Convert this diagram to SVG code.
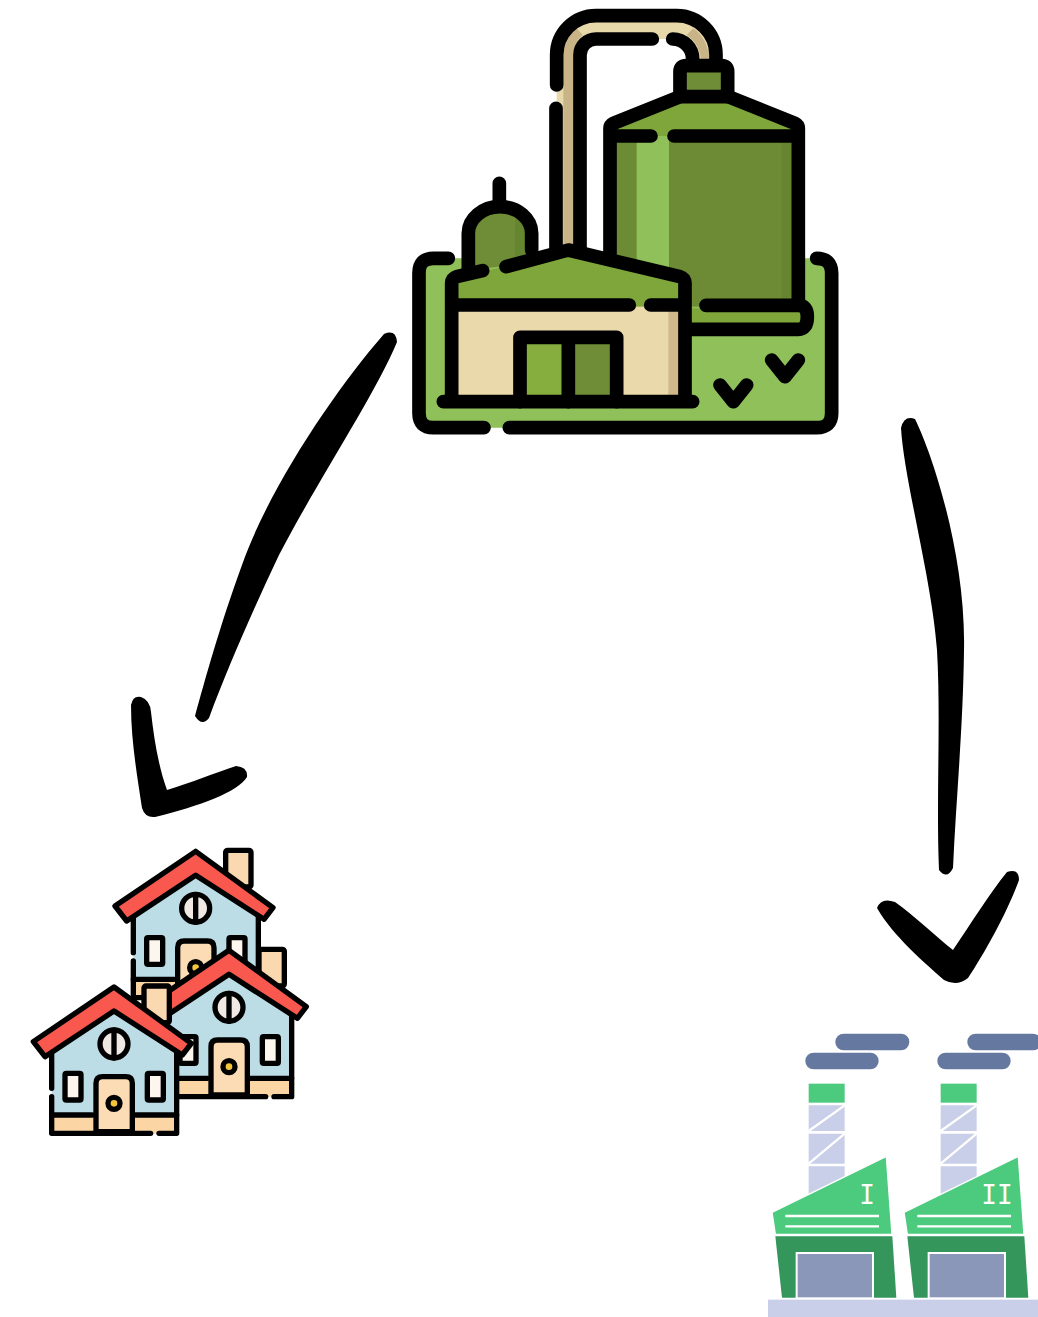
<svg xmlns="http://www.w3.org/2000/svg" xmlns:xlink="http://www.w3.org/1999/xlink" width="1038" height="1317" viewBox="0 0 1038 1317">
<style>
.k{fill:none;stroke:#000;stroke-width:41;stroke-linecap:round;stroke-linejoin:round}
.h{stroke:#000;stroke-width:16;stroke-linecap:round;stroke-linejoin:round}
.hl{fill:none;stroke:#000;stroke-width:16;stroke-linecap:round;stroke-linejoin:round}
.w{fill:none;stroke:#fff;stroke-width:7}
.t{font-family:"DejaVu Sans Mono",monospace;font-size:26px;fill:#fff;text-anchor:middle}
</style>
<defs>
<g id="house">
<rect class="h" x="90" y="-7" width="76" height="110" rx="6" fill="#fad9b0"/>
<path d="M-187 170L0 50L188 170V435H-187Z" fill="#bcdde6"/>
<rect x="-187" y="380" width="375" height="55" fill="#fbd5a4"/>
<path class="hl" d="M-187 380H-65M65 380H188"/>
<path class="h" fill="#fcdcb4" d="M-54 430V285Q-54 265-34 265H35Q55 265 55 285V430Z"/>
<circle class="h" cx="0" cy="345" r="18" fill="#f2c53d"/>
<rect class="h" x="-147" y="255" width="48" height="80" rx="4" fill="#fdf6ee"/>
<rect class="h" x="100" y="255" width="48" height="80" rx="4" fill="#fdf6ee"/>
<circle class="h" cx="0" cy="167" r="42" fill="#f0e8e2"/>
<path class="hl" d="M0 125V209"/>
<path class="hl" d="M-187 190V300M-187 325V435H110M135 435H188V190"/>
<path class="h" fill="#f9584f" d="M0 -4L232 165L205 200L0 68L-207 205L-242 160Z"/>
</g>
<g id="factory">
<rect x="232" y="20" width="222" height="50" rx="25" fill="#6478a0"/>
<rect x="142" y="77" width="220" height="50" rx="25" fill="#6478a0"/>
<rect x="152" y="170" width="108" height="57" fill="#4ccb7e"/>
<path fill="#c9cfe8" d="M152 235H260V312H152ZM152 320H260V410H152ZM152 418H260V520H152Z"/>
<path class="w" d="M152 312L260 235M152 410L260 320"/>
<path fill="#4ccb7e" stroke="#fff" stroke-width="4" d="M42 556L385 388L402 622H52Z"/>
<path class="w" d="M82 567H363M82 598H363"/>
<path fill="#35965c" d="M52 628H403L415 812H72Z"/>
<rect x="116" y="678" width="229" height="136" fill="#8a97b8" stroke="#fff" stroke-width="6"/>
</g>
</defs>

<g id="biogas-plant" transform="translate(400 0) scale(.33333)">
<rect x="57" y="775" width="1238" height="508" rx="40" fill="#8fc05a"/>
<path fill="#e8d9ab" d="M470 745V165A118 118 0 0 1 588 47H830A118 118 0 0 1 948 165V195H878V177A60 60 0 0 0 818 117H588A48 48 0 0 0 540 165V745Z"/>
<path fill="#c9b488" d="M490 745V165Q490 110 530 85L548 105Q522 125 522 165V745Z"/>
<path fill="#c9b488" d="M880 85Q925 115 930 190H905Q900 130 860 105Z"/>
<rect x="630" y="400" width="565" height="520" fill="#6d8b35"/>
<rect x="710" y="408" width="97" height="500" fill="#8fc05a"/>
<rect x="1145" y="420" width="32" height="490" fill="#668530"/>
<path fill="#7ea63a" d="M630 375L840 290H985L1195 375V408H630Z"/>
<rect x="840" y="197" width="143" height="93" fill="#6f8c36"/>
<rect x="860" y="925" width="345" height="50" fill="#7ea63a"/>
<path d="M205 810V700A95 80 0 0 1 395 700V790Z" fill="#6f8c36"/>
<path d="M345 655A95 80 0 0 1 395 700V770H345Z" fill="#668530"/>
<path fill="#7ea63a" d="M155 840L505 750L855 840V920H155Z"/>
<rect x="155" y="920" width="700" height="285" fill="#ead9aa"/>
<rect x="805" y="920" width="33" height="285" fill="#cfb98a"/>
<rect x="360" y="1012" width="145" height="193" fill="#85ae3e"/>
<rect x="505" y="1012" width="145" height="193" fill="#6f8c36"/>
<path class="k" d="M145 775H100Q57 775 57 820V1240Q57 1283 100 1283H252M328 1283H1250Q1295 1283 1295 1240V820Q1295 775 1250 775"/>
<path class="k" d="M470 255V165A118 118 0 0 1 588 47H830A118 118 0 0 1 948 165V190M468 325V745M540 745V165A48 48 0 0 1 588 117H757M818 117A60 60 0 0 1 878 177V190"/>
<path class="k" d="M840 290V215Q840 197 858 197H965Q983 197 983 215V290"/>
<path class="k" d="M630 760V385Q630 375 640 370L840 290H985L1185 370Q1195 375 1195 385V915M630 408H753M822 408H1195"/>
<path class="k" d="M918 916H1195Q1222 916 1222 950Q1222 988 1195 988H860"/>
<path class="k" d="M205 810V700A95 80 0 0 1 395 700V750M298 550V610"/>
<path class="k" d="M155 1205V850Q155 835 170 830L248 812M318 800L505 750L840 830Q855 835 855 850V1205M155 915H688M752 915H855M130 1205H878"/>
<path class="k" d="M360 1205V1012H650V1205M505 1012V1205"/>
<path class="k" d="M960 1155L1000 1205L1040 1155M1115 1080L1155 1130L1195 1080"/>
</g>

<g id="connectors" fill="#000">
<path id="arrow-left-shaft" d="M384 334Q396 329 397 342C375 395 318 480 279 555C252 612 226 672 209 718Q202 727 195 716C205 680 220 625 242 565C268 490 335 390 384 334Z"/>
<path id="arrow-left-head" d="M131 705Q133 695 141 697Q150 700 151 712C154 738 158 765 167 790C190 783 215 773 236 766Q248 767 247 777C238 792 200 806 155 817Q145 818 142 808C137 775 131 740 131 705Z"/>
<path id="arrow-right-shaft" d="M901 428Q904 415 915 419C935 460 966 560 964 650C963 730 956 800 953 868Q947 880 939 870C936 800 941 720 937 650C932 580 904 480 901 428Z"/>
<path id="arrow-right-head" d="M877 908Q881 897 895 902C915 916 935 936 953 950C970 925 990 893 1007 872Q1019 868 1019 880C1006 915 985 952 968 978Q957 987 944 980C925 963 893 936 877 908Z"/>
</g>

<g id="houses" transform="translate(20 840) scale(.33333)">
<use xlink:href="#house" href="#house" x="527" y="38"/>
<use xlink:href="#house" href="#house" x="627" y="335"/>
<use xlink:href="#house" href="#house" x="282" y="445"/>
</g>

<g id="factories">
<g transform="translate(758 1027) scale(.33333)">
<use xlink:href="#factory" href="#factory"/>
<use xlink:href="#factory" href="#factory" x="396"/>
<rect x="30" y="818" width="810" height="52" fill="#c9cfe8"/>
</g>
<text class="t" x="867" y="1204">I</text>
<text class="t" x="997" y="1204">II</text>
</g>
</svg>
